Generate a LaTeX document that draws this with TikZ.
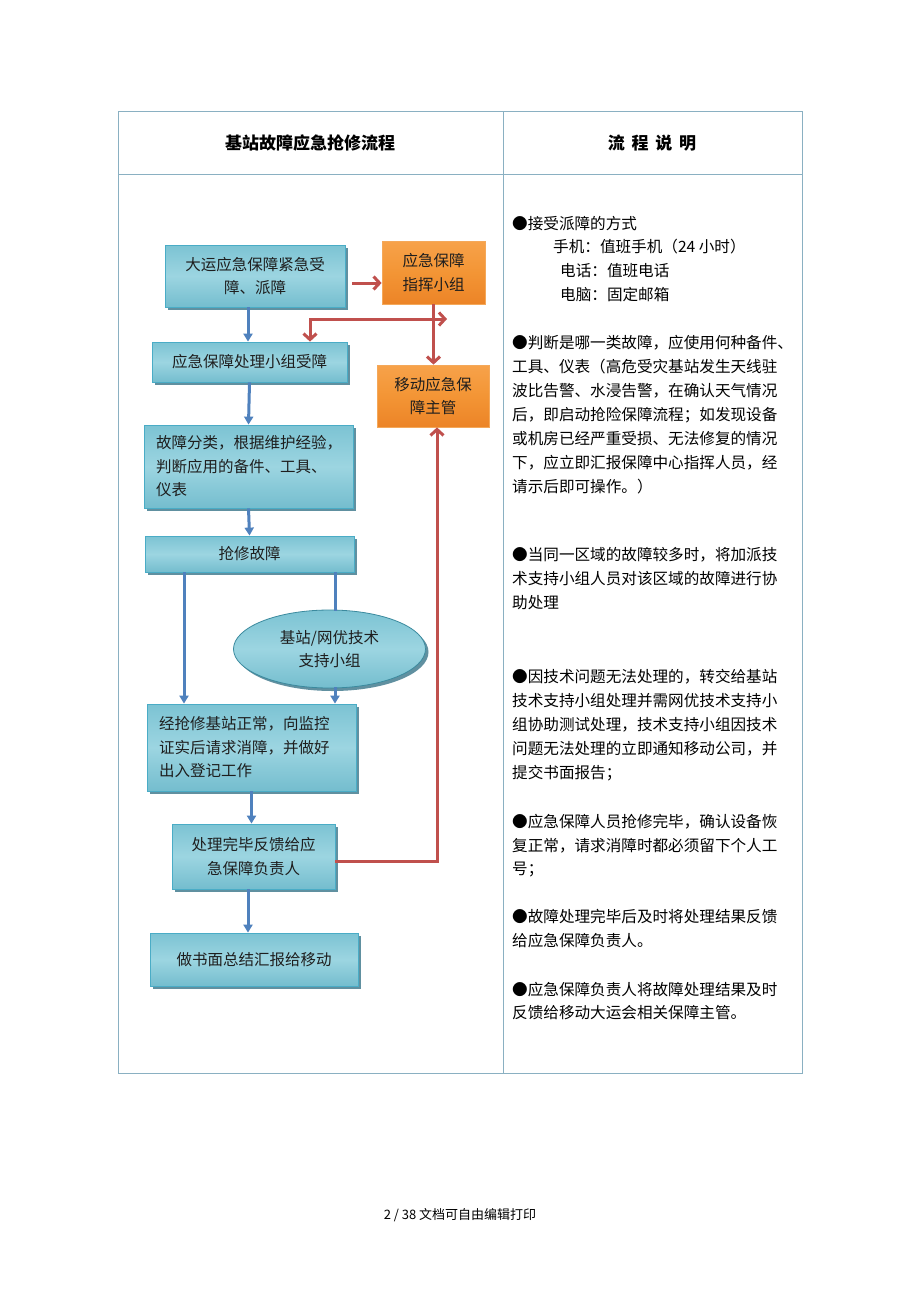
\documentclass[tikz,border=0pt]{standalone}
\usepackage{fontspec}
\setmainfont{Noto Sans CJK SC}
\usetikzlibrary{arrows.meta,shadows,shapes.geometric,calc}
\definecolor{tblline}{HTML}{8AB0C2}
\definecolor{bborder}{HTML}{4AACC6}
\definecolor{btop}{HTML}{7CC3D3}
\definecolor{bmid}{HTML}{9CD5E1}
\definecolor{bbot}{HTML}{74BDCE}
\definecolor{bshadow}{HTML}{4F8496}
\definecolor{otop}{HTML}{F7A24A}
\definecolor{omid}{HTML}{F39535}
\definecolor{obot}{HTML}{EC8427}
\definecolor{oborder}{HTML}{F4A85A}
\definecolor{arrblue}{HTML}{4F81BD}
\definecolor{arrred}{HTML}{C0504D}
\definecolor{txt}{HTML}{1E1E1E}
\begin{document}
\begin{tikzpicture}[x=1pt,y=-1pt,
  bluebox/.style={draw=bborder, line width=0.8pt, top color=btop, bottom color=bbot, middle color=bmid,
    drop shadow={shadow xshift=3pt, shadow yshift=-3pt, fill=bshadow, opacity=0.9},
    inner sep=0pt, font=\fontsize{15.5}{23.5}\selectfont, text=txt, align=center},
  orangebox/.style={draw=oborder, line width=0.8pt, top color=otop, bottom color=obot, middle color=omid,
    inner sep=0pt, font=\fontsize{15.5}{23.5}\selectfont, text=txt, align=center},
  barrow/.style={draw=arrblue, line width=3pt, -{Triangle[length=8pt,width=9pt]}},
  bline/.style={draw=arrblue, line width=3pt},
  rarrow/.style={draw=arrred, line width=3pt, -{Straight Barb[length=6pt,width=13pt]}},
  rdouble/.style={draw=arrred, line width=3pt, line join=miter, {Straight Barb[length=6pt,width=13pt]}-{Straight Barb[length=6pt,width=13pt]}},
  desc/.style={anchor=west, inner sep=0pt, font=\fontsize{15.6}{24}\selectfont, text=black},
  hdr/.style={inner sep=0pt, font=\fontsize{17}{20}\selectfont\bfseries, text=black}
]
\useasboundingbox (0,0) rectangle (920,1302);
\fill[white] (0,0) rectangle (920,1302);

% table
\draw[tblline, line width=0.9pt] (118,111) rectangle (802,1073);
\draw[tblline, line width=0.9pt] (118,174) -- (802,174);
\draw[tblline, line width=0.9pt] (503,111) -- (503,1073);
\node[hdr] (h1) at (310,143) {基站故障应急抢修流程};
\node[hdr] (h2) at (652,143) {流\hspace{0.4em}程\hspace{0.4em}说\hspace{0.4em}明};

% flow boxes
\node[bluebox, minimum width=180pt, minimum height=62pt] (b1) at (255,276) {大运应急保障紧急受\\障、派障};
\node[orangebox, minimum width=103pt, minimum height=63pt] (b2) at (433.5,272.5) {应急保障\\指挥小组};
\node[bluebox, minimum width=195pt, minimum height=40pt] (b3) at (249.5,362) {应急保障处理小组受障};
\node[orangebox, minimum width=112pt, minimum height=62pt] (b4) at (433,396) {移动应急保\\障主管};
\node[bluebox, minimum width=209pt, minimum height=83pt, text width=185pt, inner xsep=12pt, align=left] (b5) at (248.5,466.5) {故障分类，根据维护经验，\\判断应用的备件、工具、\\仪表};
\node[bluebox, minimum width=209pt, minimum height=36pt] (b6) at (249.5,554) {抢修故障};
\node[bluebox, ellipse, draw=bborder!80!black, minimum width=192pt, minimum height=78pt] (el) at (329.5,649) {基站/网优技术\\支持小组};
\node[bluebox, minimum width=209pt, minimum height=87pt, text width=185pt, inner xsep=12pt, align=left] (b8) at (251.5,747.5) {经抢修基站正常，向监控\\证实后请求消障，并做好\\出入登记工作};
\node[bluebox, minimum width=163pt, minimum height=65pt] (b9) at (253.5,856.5) {处理完毕反馈给应\\急保障负责人};
\node[bluebox, minimum width=208pt, minimum height=53pt] (b10) at (254,959.5) {做书面总结汇报给移动};

% helper coordinates
\coordinate (xa) at (248,0);
\coordinate (xl) at (184,0);
\coordinate (xr) at (335,0);
\coordinate (xd) at (310,0);
\coordinate (xq) at (437,0);
\coordinate (ra) at (352,283);
\coordinate (rc) at (447,319);

% blue connectors
\draw[barrow] (b1.south -| xa) -- (b3.north -| xa);
\draw[barrow] (b3.south) -- (b5.north);
\draw[barrow] (b5.south) -- (b6.north);
\draw[barrow] (b6.south -| xl) -- (b8.north -| xl);
\draw[bline] (b6.south -| xr) -- ($(el.north -| xr)+(0,1)$);
\draw[barrow] ($(el.south -| xr)+(0,-1)$) -- (b8.north -| xr);
\draw[barrow] (b8.south) -- (b9.north -| b8.south);
\draw[barrow] (b9.south -| xa) -- (b10.north -| xa);

% red connectors
\draw[rarrow] (ra) -- (b2.west |- ra);
\draw[rarrow] (b2.south) -- (b4.north -| b2.south);
\draw[rdouble] (b3.north -| xd) |- (rc);
\draw[rarrow] ($(b9.east)+(0,5)$) -| (b4.south -| xq);

% description column
\node[desc] (d1) at (512,224) {●接受派障的方式};
\node[desc] (d2) at (553,247) {手机：值班手机（24 小时）};
\node[desc] (d3) at (560,271) {电话：值班电话};
\node[desc] (d4) at (560,295) {电脑：固定邮箱};
\node[desc] (d5) at (512,343) {●判断是哪一类故障，应使用何种备件、};
\node[desc] (d6) at (512,367) {工具、仪表（高危受灾基站发生天线驻};
\node[desc] (d7) at (512,391) {波比告警、水浸告警，在确认天气情况};
\node[desc] (d8) at (512,415) {后，即启动抢险保障流程；如发现设备};
\node[desc] (d9) at (512,439) {或机房已经严重受损、无法修复的情况};
\node[desc] (d10) at (512,463) {下，应立即汇报保障中心指挥人员，经};
\node[desc] (d11) at (512,487) {请示后即可操作。）};
\node[desc] (d12) at (512,555) {●当同一区域的故障较多时，将加派技};
\node[desc] (d13) at (512,579) {术支持小组人员对该区域的故障进行协};
\node[desc] (d14) at (512,603) {助处理};
\node[desc] (d15) at (512,677) {●因技术问题无法处理的，转交给基站};
\node[desc] (d16) at (512,701) {技术支持小组处理并需网优技术支持小};
\node[desc] (d17) at (512,725) {组协助测试处理，技术支持小组因技术};
\node[desc] (d18) at (512,749) {问题无法处理的立即通知移动公司，并};
\node[desc] (d19) at (512,773) {提交书面报告；};
\node[desc] (d20) at (512,822) {●应急保障人员抢修完毕，确认设备恢};
\node[desc] (d21) at (512,846) {复正常，请求消障时都必须留下个人工};
\node[desc] (d22) at (512,870) {号；};
\node[desc] (d23) at (512,917) {●故障处理完毕后及时将处理结果反馈};
\node[desc] (d24) at (512,941) {给应急保障负责人。};
\node[desc] (d25) at (512,990) {●应急保障负责人将故障处理结果及时};
\node[desc] (d26) at (512,1013) {反馈给移动大运会相关保障主管。};

% footer
\node[inner sep=0pt, font=\fontsize{13}{15}\selectfont] (ft) at (460,1215) {2\ /\ 38 文档可自由编辑打印};
\end{tikzpicture}
\end{document}
